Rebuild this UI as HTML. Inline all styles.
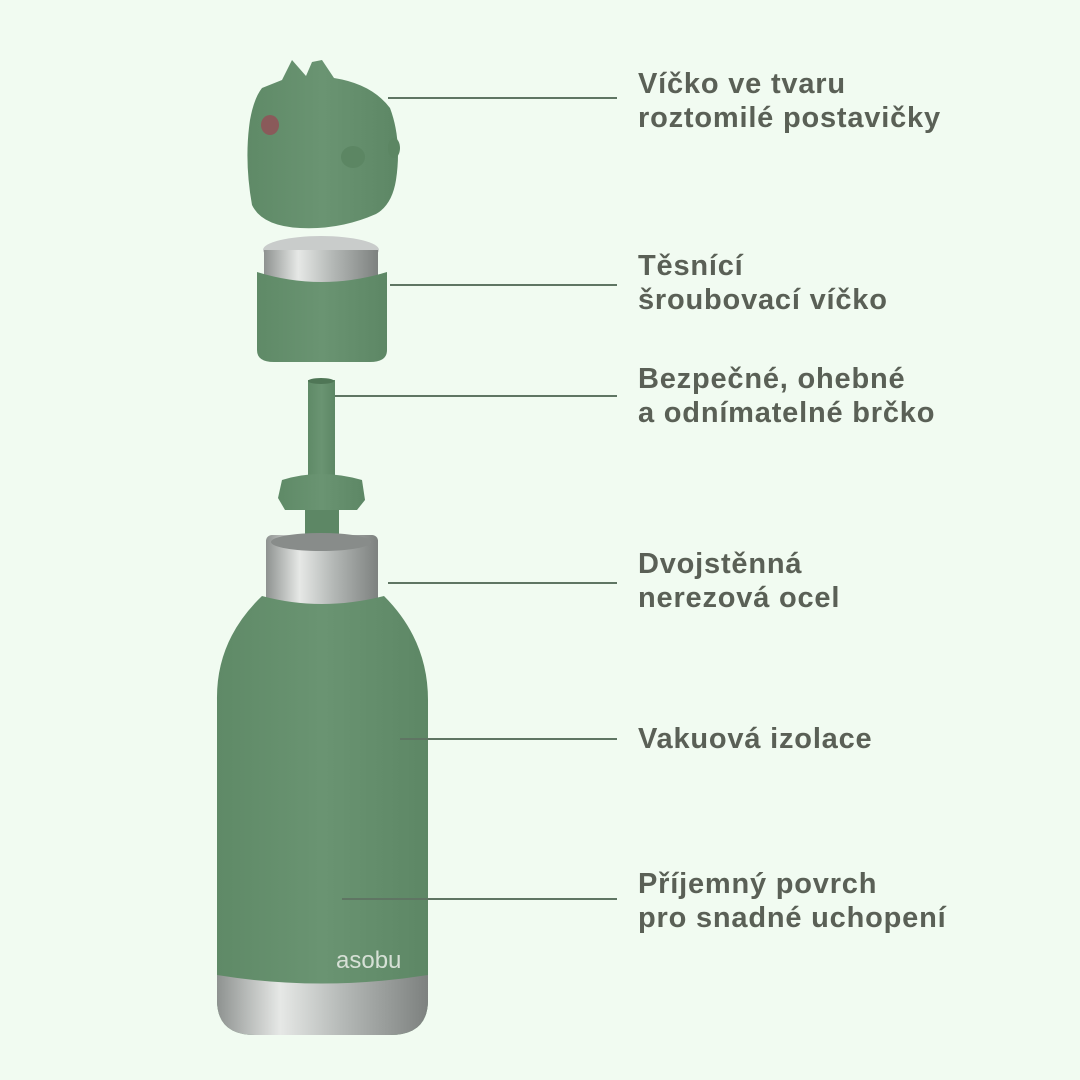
<!DOCTYPE html>
<html><head><meta charset="utf-8"><style>
html,body{margin:0;padding:0;background:#f1fbf1;}
.w{position:relative;width:1080px;height:1080px;overflow:hidden;background:#f1fbf1;}
.t{position:absolute;left:638px;font:bold 29px/34px "Liberation Sans",sans-serif;letter-spacing:0.8px;color:#5a6056;white-space:nowrap;}
</style></head><body><div class="w">
<svg width="1080" height="1080" style="position:absolute;left:0;top:0">
<defs>
<linearGradient id="g" x1="0" x2="1"><stop offset="0" stop-color="#5f8a67"/><stop offset=".5" stop-color="#6a9472"/><stop offset="1" stop-color="#5d8765"/></linearGradient>
<linearGradient id="s" x1="0" x2="1"><stop offset="0" stop-color="#8e9290"/><stop offset=".3" stop-color="#e6e8e6"/><stop offset=".6" stop-color="#b4b8b6"/><stop offset="1" stop-color="#7d817f"/></linearGradient>
</defs>
<!-- dino head -->
<path d="M262 88 L282 80 L292 60 L306 76 L312 62 L322 60 L330 72 L334 78 Q372 84 390 108 Q402 140 396 180 Q392 205 376 214 Q340 230 300 228 Q262 226 252 205 Q244 160 250 120 Q254 98 262 88Z" fill="url(#g)"/>
<ellipse cx="270" cy="125" rx="9" ry="10" fill="#8a5a5a"/>
<ellipse cx="353" cy="157" rx="12" ry="11" fill="#5c8663"/>
<ellipse cx="394" cy="148" rx="6" ry="10" fill="#5c8663"/>
<!-- screw cap -->
<ellipse cx="321" cy="250" rx="58" ry="14" fill="#c9cccb"/>
<rect x="264" y="250" width="114" height="36" fill="url(#s)"/>
<path d="M257 272 Q321 292 387 272 L387 350 Q387 362 370 362 L274 362 Q257 362 257 350Z" fill="url(#g)"/>
<!-- straw -->
<rect x="308" y="380" width="27" height="100" fill="url(#g)"/>
<ellipse cx="321" cy="381" rx="13" ry="3" fill="#4f7656"/>
<path d="M282 480 Q320 468 362 480 L365 500 L357 510 L285 510 L278 498Z" fill="url(#g)"/>
<rect x="305" y="510" width="34" height="30" fill="#5d8765"/>
<!-- neck -->
<rect x="266" y="535" width="112" height="80" rx="6" fill="url(#s)"/>
<ellipse cx="321" cy="542" rx="50" ry="9" fill="#888c8a"/>
<!-- body -->
<path d="M262 596 Q321 612 384 596 Q428 640 428 700 L428 1000 Q428 1035 390 1035 L255 1035 Q217 1035 217 1000 L217 700 Q216 640 262 596Z" fill="url(#g)"/>
<path d="M217 975 Q321 992 428 975 L428 1000 Q428 1035 390 1035 L255 1035 Q217 1035 217 1000Z" fill="url(#s)"/>
<text x="336" y="968" font-family="Liberation Sans,sans-serif" font-size="24" fill="#d6e0d6">asobu</text>
<g stroke="#5f7563" stroke-width="2">
<line x1="388" y1="98" x2="617" y2="98"/>
<line x1="390" y1="285" x2="617" y2="285"/>
<line x1="335" y1="396" x2="617" y2="396"/>
<line x1="388" y1="583" x2="617" y2="583"/>
<line x1="400" y1="739" x2="617" y2="739"/>
<line x1="342" y1="899" x2="617" y2="899"/>
</g>
</svg>
<div class="t" style="top:67px">Víčko ve tvaru<br>roztomilé postavičky</div>
<div class="t" style="top:249px">Těsnící<br>šroubovací víčko</div>
<div class="t" style="top:362px">Bezpečné, ohebné<br>a odnímatelné brčko</div>
<div class="t" style="top:547px">Dvojstěnná<br>nerezová ocel</div>
<div class="t" style="top:722px">Vakuová izolace</div>
<div class="t" style="top:867px">Příjemný povrch<br>pro snadné uchopení</div>
</div></body></html>
